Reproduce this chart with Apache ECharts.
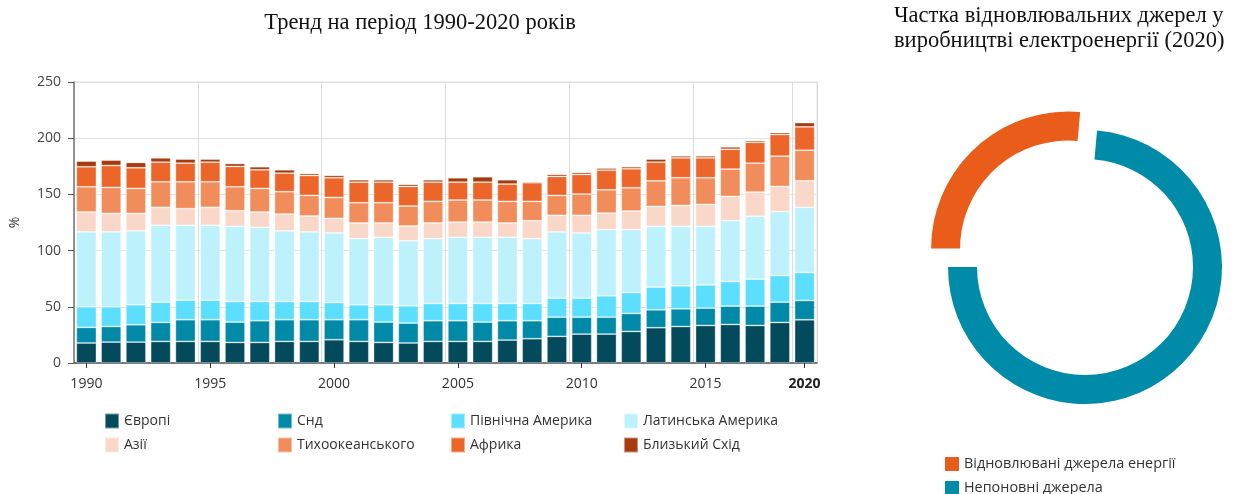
<!DOCTYPE html>
<html>
<head>
<meta charset="utf-8">
<script src="https://cdn.jsdelivr.net/npm/echarts@6/dist/echarts.min.js"></script>
<style>
html,body{margin:0;padding:0;background:#fff;}
#chart{width:1238px;height:494px;}
</style>
</head>
<body>
<div id="chart"></div>
<script>
const years = ['1990','1991','1992','1993','1994','1995','1996','1997','1998','1999','2000','2001','2002','2003','2004','2005','2006','2007','2008','2009','2010','2011','2012','2013','2014','2015','2016','2017','2018','2020'];
const europe   = [17.8,18.6,18.6,19.2,19.2,19.2,18.3,18.3,19.2,19.2,20.7,19.2,18.3,17.8,19.2,19.2,19.2,20.4,21.6,23.7,25.7,25.7,28.1,31.4,32.5,33.4,34.3,33.4,36.1,38.5];
const cis      = [13.9,13.9,15.4,16.9,19.3,19.3,18.1,19.3,19.3,19.3,17.8,19.3,18.1,17.7,18.4,18.4,17.2,17.2,16.0,17.1,15.1,15.1,16.0,15.9,15.7,15.4,16.3,17.2,18.0,17.1];
const nAmerica = [18.3,17.5,17.8,18.0,17.4,17.4,18.3,17.1,16.2,16.2,15.3,13.3,15.4,15.4,15.4,15.4,16.6,15.4,15.4,16.9,16.9,19.0,18.6,20.2,20.4,20.7,21.9,24.0,23.7,24.9];
const lAmerica = [66.6,66.6,65.7,68.4,66.6,66.6,66.9,66.0,62.8,61.9,61.9,58.9,60.0,57.7,57.7,58.8,58.8,58.8,57.7,58.9,58.0,58.8,55.9,54.1,53.0,52.1,54.1,55.9,56.8,58.0];
const asia     = [17.7,16.5,15.6,16.0,14.8,16.0,13.9,13.6,15.0,14.2,13.0,13.9,12.8,13.3,13.9,13.6,13.6,12.8,15.9,14.8,15.7,14.8,16.6,17.7,18.6,19.5,21.6,21.6,22.5,23.6];
const pacific  = [22.5,23.1,22.2,22.7,23.9,22.7,21.3,21.0,19.9,18.3,18.6,18.0,18.0,17.7,19.2,19.6,19.6,19.2,17.2,17.7,18.9,20.7,20.7,22.8,24.6,23.7,24.3,25.7,26.9,27.2];
const africa   = [17.8,19.5,18.4,17.5,16.6,17.5,18.1,16.6,16.5,17.8,17.5,18.3,18.3,17.5,17.1,15.9,15.9,15.4,16.6,16.9,17.5,17.5,16.9,16.6,17.7,17.7,17.7,18.6,19.3,20.8];
const mEast    = [5.0,4.8,4.7,3.8,3.6,2.7,2.6,2.7,3.0,1.7,2.1,2.1,2.1,1.8,2.1,3.9,4.8,3.8,1.0,1.8,1.7,1.8,1.8,2.7,1.8,1.8,2.1,1.5,1.7,3.8];

const seriesNames = ['Європі','Снд','Північна Америка','Латинська Америка','Азії','Тихоокеанського','Африка','Близький Схід'];
const seriesData = [europe, cis, nAmerica, lAmerica, asia, pacific, africa, mEast];
const seriesColors = ['#034b5c','#008aa8','#5cdfff','#bdf2fc','#fad8c9','#f18d5b','#ec6629','#a63c0d'];

const pieNames = ['Відновлювані джерела енергії','Непоновні джерела'];
const pieValues = [26.4, 73.6];
const pieColors = ['#ea5c1a','#008ba9'];

const chartTitle = 'Тренд на період 1990-2020 років';
const pieTitle = 'Частка відновлювальних джерел у\nвиробництві електроенергії (2020)';

const labelShown = (i) => i % 5 === 0 || i === years.length - 1;

const barSeries = seriesNames.map((n, k) => ({
  name: n,
  type: 'bar',
  stack: 'total',
  barCategoryGap: '19%',
  data: seriesData[k],
  itemStyle: { color: seriesColors[k], borderColor: 'rgba(255,255,255,0.45)', borderWidth: 0.8 },
  emphasis: { disabled: true }
}));

const chart = echarts.init(document.getElementById('chart'), null, { renderer: 'canvas' });
chart.setOption({
  animation: false,
  textStyle: { fontFamily: '"Open Sans", sans-serif' },
  title: [
    { text: chartTitle, left: 415, textAlign: 'center', top: 7,
      textStyle: { fontFamily: '"Liberation Serif", serif', fontWeight: 'normal', fontSize: 22.5, color: '#111' } },
    { text: pieTitle, left: 889, top: -1,
      textStyle: { fontFamily: '"Liberation Serif", serif', fontWeight: 'normal', fontSize: 22.5, lineHeight: 25, color: '#111' } }
  ],
  grid: { left: 72, right: 421, top: 82, bottom: 131, show: true, borderColor: '#dedede', borderWidth: 1 },
  legend: [
    { data: seriesNames, left: 99, top: 407, width: 720, itemWidth: 14, itemHeight: 15, itemGap: 6,
      icon: 'rect', selectedMode: false,
      textStyle: { fontSize: 14, color: '#333', width: 147, lineHeight: 18, fontFamily: '"Open Sans", sans-serif' } },
    { data: pieNames, orient: 'vertical', left: 940, top: 450, height: 80, itemWidth: 14, itemHeight: 14, itemGap: 6,
      icon: 'rect', selectedMode: false,
      textStyle: { fontSize: 14.4, color: '#333', lineHeight: 18, fontFamily: '"Open Sans", sans-serif' } }
  ],
  xAxis: {
    type: 'category',
    data: years,
    axisLine: { lineStyle: { color: '#555', width: 1.5 } },
    axisTick: { show: true, alignWithLabel: true, interval: (i) => labelShown(i), length: 5, lineStyle: { color: '#333' } },
    axisLabel: {
      interval: (i) => labelShown(i), fontSize: 14, color: '#333', margin: 14,
      formatter: (v) => v === '2020' ? '{b|' + v + '}' : v,
      rich: { b: { fontSize: 14, fontWeight: 'bold', color: '#222', padding: [0, 0, 5, 0] } }
    },
    splitLine: { show: true, interval: (i) => labelShown(i), lineStyle: { color: '#dcdcdc' } }
  },
  yAxis: {
    type: 'value', min: 0, max: 250, interval: 50,
    name: '%', nameLocation: 'middle', nameGap: 52, nameRotate: 90,
    nameTextStyle: { fontSize: 14, color: '#333' },
    axisLine: { show: true, lineStyle: { color: '#777', width: 1.5 } },
    axisTick: { show: true, length: 6, lineStyle: { color: '#555' } },
    axisLabel: { fontSize: 14, color: '#444', margin: 13 },
    splitLine: { lineStyle: { color: '#e3e3e3' } }
  },
  series: barSeries.concat([{
    type: 'pie',
    center: [1085, 267],
    radius: [108, 137],
    startAngle: 180,
    clockwise: true,
    selectedMode: 'single',
    selectedOffset: 25,
    label: { show: false },
    labelLine: { show: false },
    emphasis: { disabled: true },
    data: pieNames.map((n, k) => ({ name: n, value: pieValues[k], selected: k === 0, itemStyle: { color: pieColors[k] } }))
  }])
});
</script>
</body>
</html>
